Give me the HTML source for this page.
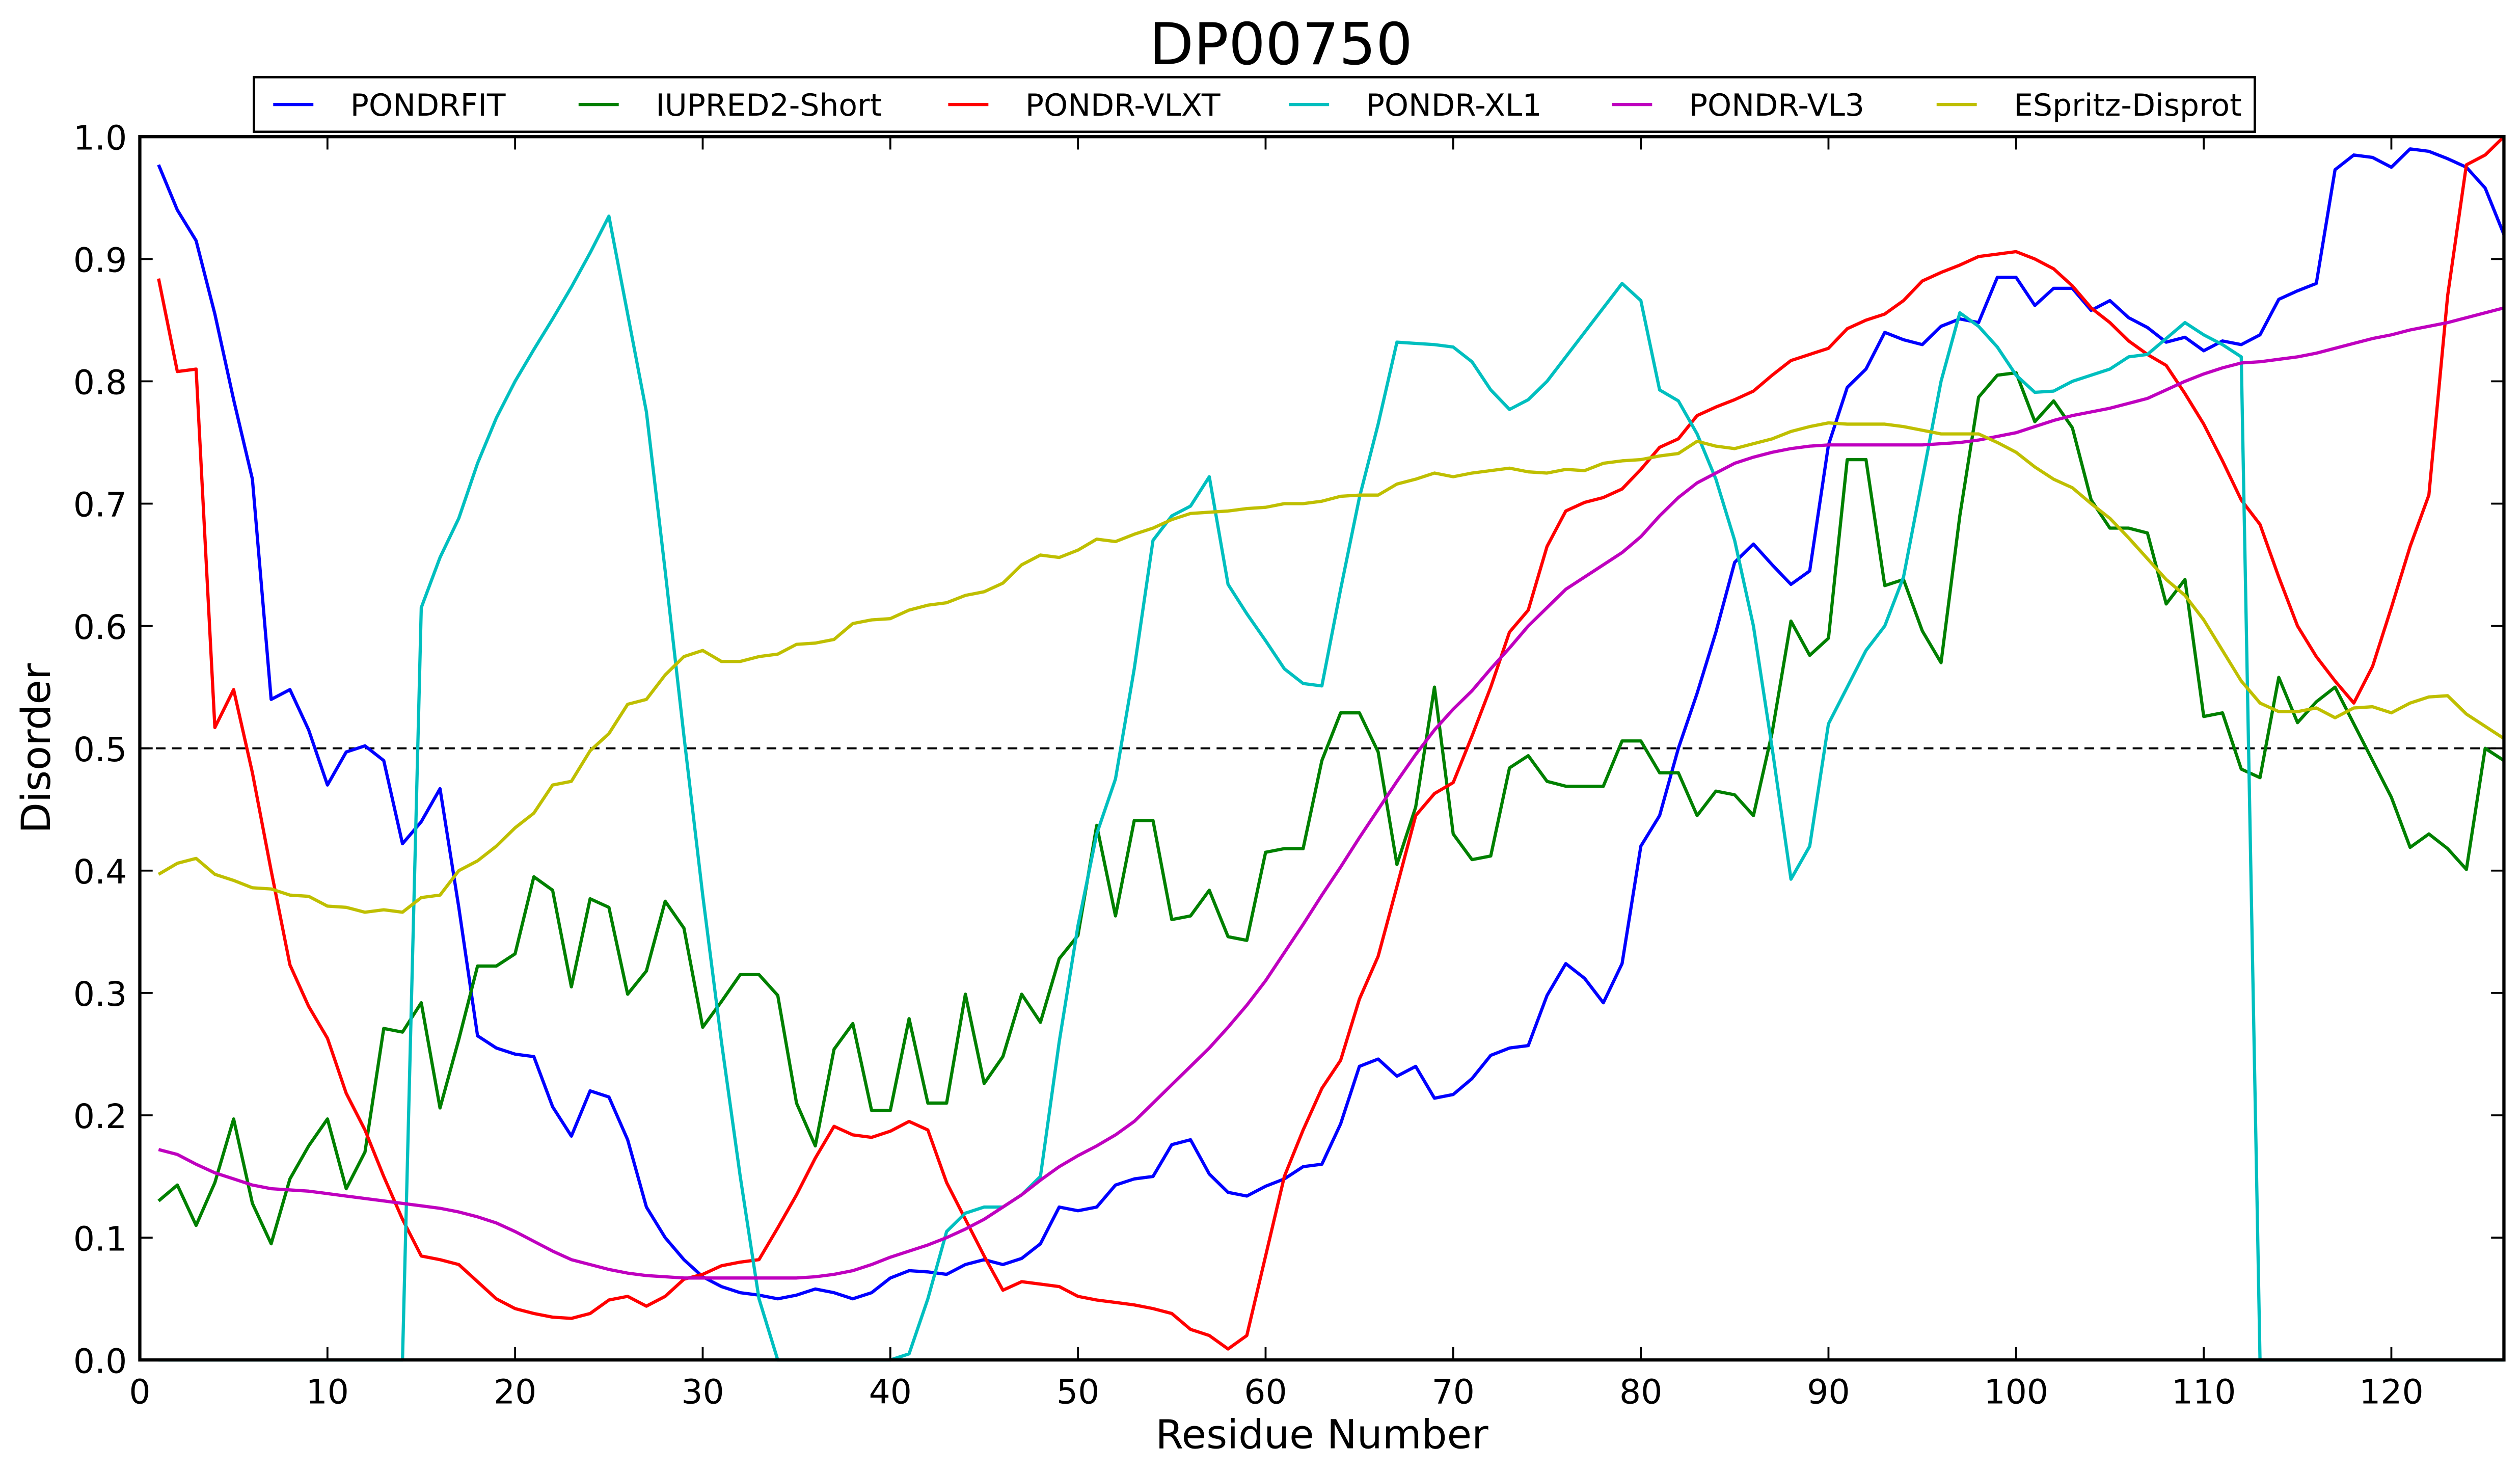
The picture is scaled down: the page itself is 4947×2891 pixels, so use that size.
<!DOCTYPE html>
<html><head><meta charset="utf-8"><style>html,body{margin:0;padding:0;background:#fff}svg{display:block}</style></head>
<body>
<svg id="chart" width="4947" height="2891" viewBox="0 0 1568 916.3" xmlns="http://www.w3.org/2000/svg" font-family="'DejaVu Sans','Liberation Sans',sans-serif">
<rect width="1568" height="916.3" fill="#fff"/>
<text x="797" y="40" font-size="36" text-anchor="middle">DP00750</text>
<g id="plot"></g>
</svg>
<script>
const residues = Array.from({length:126},(_, i)=>i+1);
const pondrfit = [0.977,0.94,0.915,0.855,0.785,0.72,0.54,0.548,0.515,0.47,0.497,0.502,0.49,0.422,0.44,0.467,0.37,0.265,0.255,0.25,0.248,0.207,0.183,0.22,0.215,0.18,0.125,0.1,0.082,0.068,0.06,0.055,0.053,0.05,0.053,0.058,0.055,0.05,0.055,0.067,0.073,0.072,0.07,0.078,0.082,0.078,0.083,0.095,0.125,0.122,0.125,0.143,0.148,0.15,0.176,0.18,0.152,0.137,0.134,0.142,0.148,0.158,0.16,0.193,0.24,0.246,0.232,0.24,0.214,0.217,0.23,0.249,0.255,0.257,0.298,0.324,0.312,0.292,0.324,0.42,0.445,0.5,0.545,0.595,0.652,0.667,0.65,0.634,0.645,0.748,0.795,0.81,0.84,0.834,0.83,0.845,0.851,0.848,0.885,0.885,0.862,0.876,0.876,0.858,0.866,0.852,0.844,0.832,0.836,0.825,0.833,0.83,0.838,0.867,0.874,0.88,0.973,0.985,0.983,0.975,0.99,0.988,0.982,0.975,0.958,0.92];
const iupred = [0.13,0.143,0.11,0.145,0.197,0.128,0.095,0.148,0.175,0.197,0.14,0.17,0.271,0.268,0.292,0.206,0.262,0.322,0.322,0.332,0.395,0.384,0.305,0.377,0.37,0.299,0.318,0.375,0.353,0.272,0.293,0.315,0.315,0.298,0.21,0.175,0.254,0.275,0.204,0.204,0.279,0.21,0.21,0.299,0.226,0.248,0.299,0.276,0.328,0.347,0.437,0.363,0.441,0.441,0.36,0.363,0.384,0.346,0.343,0.415,0.418,0.418,0.49,0.529,0.529,0.497,0.405,0.452,0.55,0.43,0.409,0.412,0.484,0.494,0.473,0.469,0.469,0.469,0.506,0.506,0.48,0.48,0.445,0.465,0.462,0.445,0.513,0.604,0.576,0.59,0.736,0.736,0.633,0.638,0.596,0.57,0.69,0.787,0.805,0.807,0.767,0.784,0.762,0.703,0.68,0.68,0.676,0.618,0.638,0.526,0.529,0.483,0.476,0.558,0.521,0.538,0.55,0.52,0.49,0.46,0.419,0.43,0.418,0.401,0.5,0.49];
const vlxt = [0.884,0.808,0.81,0.517,0.548,0.48,0.4,0.323,0.289,0.263,0.218,0.188,0.15,0.115,0.085,0.082,0.078,0.064,0.05,0.042,0.038,0.035,0.034,0.038,0.049,0.052,0.044,0.052,0.066,0.07,0.077,0.08,0.082,0.108,0.135,0.165,0.191,0.184,0.182,0.187,0.195,0.188,0.145,0.115,0.085,0.057,0.064,0.062,0.06,0.052,0.049,0.047,0.045,0.042,0.038,0.025,0.02,0.009,0.02,0.085,0.15,0.188,0.222,0.245,0.295,0.33,0.387,0.445,0.463,0.472,0.51,0.55,0.595,0.613,0.665,0.694,0.701,0.705,0.712,0.728,0.746,0.753,0.772,0.779,0.785,0.792,0.805,0.817,0.822,0.827,0.843,0.85,0.855,0.866,0.882,0.889,0.895,0.902,0.904,0.906,0.9,0.892,0.878,0.86,0.848,0.833,0.822,0.813,0.79,0.765,0.735,0.703,0.683,0.64,0.6,0.575,0.555,0.537,0.567,0.615,0.665,0.707,0.87,0.977,0.985,1.0];
const xl1 = [0,0,0,0,0,0,0,0,0,0,0,0,0,0,0.615,0.656,0.688,0.733,0.77,0.8,0.826,0.851,0.877,0.905,0.935,0.855,0.775,0.645,0.51,0.38,0.26,0.15,0.05,0,0,0,0,0,0,0,0.005,0.05,0.105,0.12,0.125,0.125,0.135,0.15,0.26,0.355,0.43,0.475,0.565,0.67,0.69,0.698,0.722,0.634,0.61,0.588,0.565,0.553,0.551,0.63,0.705,0.765,0.832,0.831,0.83,0.828,0.816,0.793,0.777,0.785,0.8,0.82,0.84,0.86,0.88,0.866,0.793,0.784,0.757,0.72,0.67,0.6,0.5,0.393,0.42,0.52,0.55,0.58,0.6,0.64,0.72,0.8,0.856,0.845,0.828,0.805,0.791,0.792,0.8,0.805,0.81,0.82,0.822,0.835,0.848,0.838,0.83,0.82,0,0,0,0,0,0,0,0,0,0,0,0,0,0];
const vl3 = [0.172,0.168,0.16,0.153,0.148,0.143,0.14,0.139,0.138,0.136,0.134,0.132,0.13,0.128,0.126,0.124,0.121,0.117,0.112,0.105,0.097,0.089,0.082,0.078,0.074,0.071,0.069,0.068,0.067,0.067,0.067,0.067,0.067,0.067,0.067,0.068,0.07,0.073,0.078,0.084,0.089,0.094,0.1,0.107,0.115,0.125,0.135,0.147,0.158,0.167,0.175,0.184,0.195,0.21,0.225,0.24,0.255,0.272,0.29,0.31,0.333,0.356,0.38,0.403,0.427,0.45,0.473,0.495,0.515,0.532,0.547,0.565,0.582,0.6,0.615,0.63,0.64,0.65,0.66,0.673,0.69,0.705,0.717,0.725,0.733,0.738,0.742,0.745,0.747,0.748,0.748,0.748,0.748,0.748,0.748,0.749,0.75,0.752,0.755,0.758,0.763,0.768,0.772,0.775,0.778,0.782,0.786,0.793,0.8,0.806,0.811,0.815,0.816,0.818,0.82,0.823,0.827,0.831,0.835,0.838,0.842,0.845,0.848,0.852,0.856,0.86];
const espritz = [0.397,0.406,0.41,0.397,0.392,0.386,0.385,0.38,0.379,0.371,0.37,0.366,0.368,0.366,0.378,0.38,0.4,0.408,0.42,0.435,0.447,0.47,0.473,0.498,0.512,0.536,0.54,0.56,0.575,0.58,0.571,0.571,0.575,0.577,0.585,0.586,0.589,0.602,0.605,0.606,0.613,0.617,0.619,0.625,0.628,0.635,0.65,0.658,0.656,0.662,0.671,0.669,0.675,0.68,0.687,0.692,0.693,0.694,0.696,0.697,0.7,0.7,0.702,0.706,0.707,0.707,0.716,0.72,0.725,0.722,0.725,0.727,0.729,0.726,0.725,0.728,0.727,0.733,0.735,0.736,0.739,0.741,0.751,0.747,0.745,0.749,0.753,0.759,0.763,0.766,0.765,0.765,0.765,0.763,0.76,0.757,0.757,0.757,0.75,0.742,0.73,0.72,0.713,0.7,0.688,0.672,0.655,0.638,0.625,0.605,0.58,0.555,0.537,0.53,0.53,0.533,0.525,0.533,0.534,0.529,0.537,0.542,0.543,0.528,0.518,0.508];
const xTicks = [0,10,20,30,40,50,60,70,80,90,100,110,120];
const yTicks = [0,0.1,0.2,0.3,0.4,0.5,0.6,0.7,0.8,0.9,1.0];
const yTickLabels = ["0.0","0.1","0.2","0.3","0.4","0.5","0.6","0.7","0.8","0.9","1.0"];
const seriesNames = ["PONDRFIT","IUPRED2-Short","PONDR-VLXT","PONDR-XL1","PONDR-VL3","ESpritz-Disprot"];

const NS="http://www.w3.org/2000/svg";
const X0=87,X1=1558,Y0=846,Y1=85,XMAX=126;
const sx=v=>X0+(X1-X0)*v/XMAX;
const sy=v=>Y0-(Y0-Y1)*v;
const g=document.getElementById('plot');
function mk(t,a,p){const e=document.createElementNS(NS,t);for(const k in a)e.setAttribute(k,a[k]);(p||g).appendChild(e);return e;}

const colors=["#0000ff","#008000","#ff0000","#00bfbf","#bf00bf","#bfbf00"];
const data=[pondrfit,iupred,vlxt,xl1,vl3,espritz];
const lineNames=["line-pondrfit","line-iupred2-short","line-pondr-vlxt","line-pondr-xl1","line-pondr-vl3","line-espritz-disprot"];

const th=mk('line',{x1:X0,x2:X1,y1:sy(0.5),y2:sy(0.5),stroke:'#000','stroke-width':1.2,'stroke-dasharray':'6,4'});



data.forEach((arr,i)=>{
  const pts=arr.map((v,j)=>sx(residues[j]).toFixed(2)+','+sy(v).toFixed(2)).join(' ');
  const pl=mk('polyline',{points:pts,fill:'none',stroke:colors[i],'stroke-width':2,'stroke-linejoin':'round'});
  
  
});

const fr=mk('rect',{x:X0,y:Y1,width:X1-X0,height:Y0-Y1,fill:'none',stroke:'#000','stroke-width':2});



xTicks.forEach(t=>{
  const x=sx(t);
  mk('line',{x1:x,x2:x,y1:Y0,y2:Y0-8,stroke:'#000','stroke-width':1.2});
  mk('line',{x1:x,x2:x,y1:Y1,y2:Y1+8,stroke:'#000','stroke-width':1.2});
  const tx=mk('text',{x:x,y:Y0+27,'font-size':21,'text-anchor':'middle'});
  tx.textContent=t;
  
  
});
yTicks.forEach((t,i)=>{
  const y=sy(t);
  mk('line',{x1:X0,x2:X0+8,y1:y,y2:y,stroke:'#000','stroke-width':1.2});
  mk('line',{x1:X1,x2:X1-8,y1:y,y2:y,stroke:'#000','stroke-width':1.2});
  const tx=mk('text',{x:X0-8,y:y+8,'font-size':21,'text-anchor':'end'});
  tx.textContent=yTickLabels[i];
  
  
});
const xl=mk('text',{x:(X0+X1)/2,y:901,'font-size':25,'text-anchor':'middle'});
xl.textContent='Residue Number';


const yl=mk('text',{x:0,y:0,'font-size':25,'text-anchor':'middle',transform:'translate(31,'+((Y0+Y1)/2)+') rotate(-90)'});
yl.textContent='Disorder';



const lg=mk('g',{});


mk('rect',{x:158,y:48,width:1245,height:34,fill:'#fff',stroke:'#000','stroke-width':1.5},lg);
const lx=[170,360,590,802,1003,1205];
seriesNames.forEach((n,i)=>{
  const e=mk('g',{},lg);
  
  
  mk('line',{x1:lx[i],x2:lx[i]+25,y1:65,y2:65,stroke:colors[i],'stroke-width':2},e);
  const t=mk('text',{x:lx[i]+48,y:72,'font-size':19},e);
  t.textContent=n;
});
</script>
</body></html>
